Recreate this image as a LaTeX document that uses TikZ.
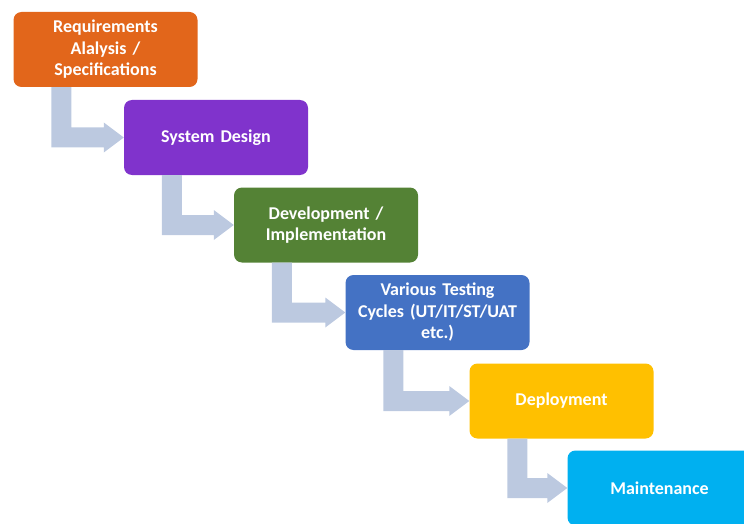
\documentclass[tikz,border=0pt]{standalone}
\usepackage{fontspec}
\setmainfont{Carlito}
\usetikzlibrary{calc}
\definecolor{reqc}{HTML}{E2661B}
\definecolor{desc}{HTML}{8033CC}
\definecolor{devc}{HTML}{548235}
\definecolor{tstc}{HTML}{4472C4}
\definecolor{depc}{HTML}{FFC000}
\definecolor{mntc}{HTML}{00B0F0}
\definecolor{flowc}{HTML}{BCC9E0}
\tikzset{
  phase/.style={rounded corners=8pt, minimum width=184pt, minimum height=75pt,
    text width=176pt, align=center, inner sep=0pt, text=white,
    font=\fontsize{18}{21.5}\selectfont\bfseries},
}
% L-shaped flow arrow from the lower left of one phase to the left side of the next
\newcommand{\flowarrow}[2]{%
  \fill[flowc] let \p1=(#1.south west), \p2=(#2.west) in
    (\x1+38pt,\y1) -- (\x1+38pt,\y2-10pt) -- (\x2-20pt,\y2-10pt) -- (\x2-20pt,\y2-15pt)
    -- (\x2,\y2) -- (\x2-20pt,\y2+15pt) -- (\x2-20pt,\y2+10pt) -- (\x1+58pt,\y2+10pt)
    -- (\x1+58pt,\y1) -- cycle;}
\begin{document}
\begin{tikzpicture}[x=1pt,y=-1pt]
\useasboundingbox (0,0) rectangle (744,524);
\clip (0,0) rectangle (744,524);
\node[phase, fill=reqc] (req) at (105.5,49.5) {Requirements\\Alalysis /\\Specifications};
\node[phase, fill=desc] (des) at (216,137.5) {System Design};
\node[phase, fill=devc] (dev) at (326,225) {Development /\\Implementation};
\node[phase, fill=tstc] (tst) at (437.5,312.5) {Various Testing\\Cycles (UT/IT/ST/UAT\\etc.)};
\node[phase, fill=depc] (dep) at (561.5,401) {Deployment};
\node[phase, fill=mntc] (mnt) at (659.5,488) {Maintenance};
\flowarrow{req}{des}
\flowarrow{des}{dev}
\flowarrow{dev}{tst}
\flowarrow{tst}{dep}
\flowarrow{dep}{mnt}
\end{tikzpicture}
\end{document}
